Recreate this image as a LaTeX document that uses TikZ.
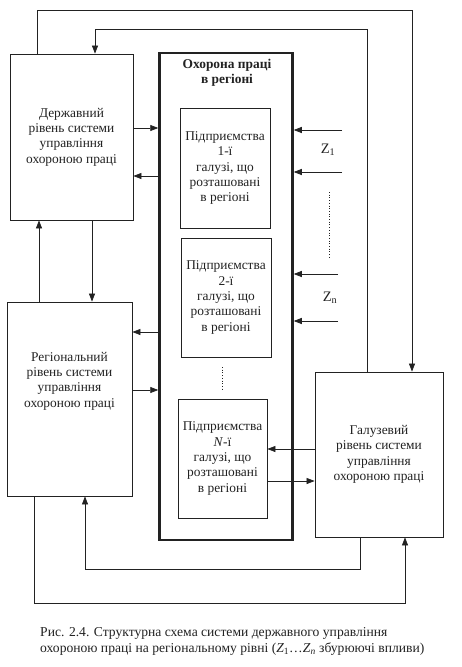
\documentclass[tikz,border=0pt]{standalone}
\usepackage{fontspec}
\setmainfont{Liberation Serif}
\usetikzlibrary{arrows.meta}
\definecolor{ink}{HTML}{222222}
\newcommand{\fs}{\fontsize{13.4}{15.4}\selectfont}
\newcommand{\capfs}{\fontsize{13.6}{16.2}\selectfont}
\begin{document}
\begin{tikzpicture}[x=1pt,y=-1pt,
  box/.style={draw=ink, line width=0.8pt, align=center, inner sep=0pt, font=\fs, text=ink},
  ln/.style={draw=ink, line width=0.75pt},
  arr/.style={ln, -{Triangle[length=8pt,width=6pt]}},
  lbl/.style={font=\fs, text=ink, inner sep=0pt}]
\useasboundingbox[fill=white] (0,0) rectangle (462,667);

% boxes
\node[box, minimum width=123pt, minimum height=166pt] (derzh) at (71.5,137)
  {Державний\\рівень системи\\управління\\охороною праці};
\node[box, minimum width=125pt, minimum height=194pt] (region) at (69.5,399) {};
\node[lbl, align=center] (regtext) at (69.5,381)
  {Регіональний\\рівень системи\\управління\\охороною праці};
\node[box, minimum width=128pt, minimum height=165pt] (galuz) at (379,454.5)
  {Галузевий\\рівень системи\\управління\\охороною праці};

\node[draw=ink, line width=2.5pt, minimum width=133pt, minimum height=487pt, inner sep=0pt] (outer) at (226,296.5) {};
\node[lbl, font=\fs\bfseries, align=center] (title) at (227,73) {Охорона праці\\в регіоні};

\node[box, minimum width=90pt, minimum height=120pt] (b1) at (225,168)
  {Підприємства\\1-ї\\галузі, що\\розташовані\\в регіоні};
\node[box, minimum width=90pt, minimum height=119pt] (b2) at (226,297.5)
  {Підприємства\\2-ї\\галузі, що\\розташовані\\в регіоні};
\node[box, minimum width=89pt, minimum height=119pt] (bN) at (222.5,458.5)
  {Підприємства\\\textit{N}-ї\\галузі, що\\розташовані\\в регіоні};

% dots between boxes
\coordinate (d1) at (222,367);
\coordinate (d2) at (222,390);
\draw[ln, line width=0.9pt, dash pattern=on 0.9pt off 1.8pt] (d1) -- (d2);

% derzh <-> outer
\draw[arr] (derzh.east |- 0,128) -- (outer.west |- 0,128);
\draw[arr] (outer.west |- 0,176) -- (derzh.east |- 0,176);
% region <-> outer
\draw[arr] (outer.west |- 0,332) -- (region.east |- 0,332);
\draw[arr] (region.east |- 0,390) -- (outer.west |- 0,390);
% galuz <-> bN
\draw[arr] (galuz.west |- 0,449) -- (bN.east |- 0,449);
\draw[arr] (bN.east |- 0,481) -- (galuz.west |- 0,481);

% Z inputs
\coordinate (z1a) at (342,130);
\coordinate (z1b) at (342,172);
\coordinate (zna) at (338,274);
\coordinate (znb) at (338,321);
\draw[arr] (z1a) -- (outer.east |- z1a);
\draw[arr] (z1b) -- (outer.east |- z1b);
\draw[arr] (zna) -- (outer.east |- zna);
\draw[arr] (znb) -- (outer.east |- znb);
\node[lbl, font=\fontsize{14.5}{16}\selectfont] (z1) at (328,150) {Z\textsubscript{1}};
\node[lbl, font=\fontsize{14.5}{16}\selectfont] (zn) at (330,298) {Z\textsubscript{n}};
\coordinate (zd1) at (329,192);
\coordinate (zd2) at (329,258);
\draw[ln, line width=0.9pt, dash pattern=on 0.9pt off 1.8pt] (zd1) -- (zd2);

% derzh <-> region
\draw[arr] (region.north -| 39,0) -- (derzh.south -| 39,0);
\draw[arr] (derzh.south -| 92,0) -- (region.north -| 92,0);

% top loops
\draw[arr] (derzh.north -| 37,0) |- (412,10) -- (galuz.north -| 412,0);
\draw[arr] (galuz.north -| 367,0) |- (95,29) -- (derzh.north -| 95,0);
% bottom loops
\draw[arr] (galuz.south -| 360,0) |- (85,569) -- (region.south -| 85,0);
\draw[arr] (region.south -| 34,0) |- (405,603) -- (galuz.south -| 405,0);

% caption
\node[lbl, font=\capfs, anchor=base west, align=left] (cap) at (40,652.5)
  {Рис. 2.4. Структурна схема системи державного управління\\охороною праці на регіональному рівні (\textit{Z}\textsubscript{1}\ldots\textit{Z}\textsubscript{\textit{n}} збурюючі впливи)};
\end{tikzpicture}
\end{document}
